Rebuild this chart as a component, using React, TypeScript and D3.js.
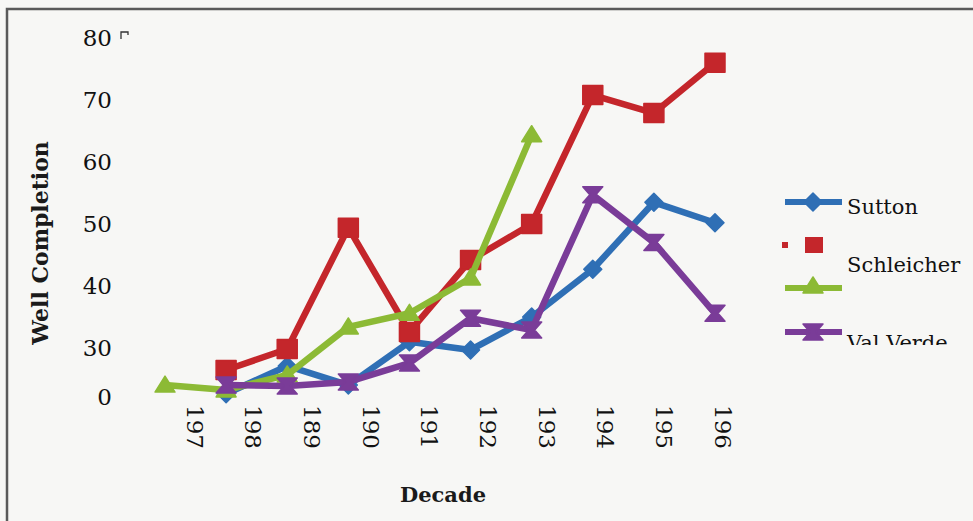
import { useRef, useEffect } from 'react';
import * as d3 from 'd3';

const decades = ['197', '198', '189', '190', '191', '192', '193', '194', '195', '196'];
const yTicks = [0, 30, 40, 50, 60, 70, 80];

const sutton = [null, 2, 19, 7.3, 31, 28.8, 35, 42.7, 53.5, 50.2];
const schleicher = [null, 16.5, 29.4, 49.4, 32.6, 44.2, 50, 70.8, 67.9, 76];
const unnamed = [7.3, 4.3, 13.5, 33.4, 35.6, 41.3, 64.4, null, null, null];
const valVerde = [null, 7.3, 6.7, 9.2, 20.8, 34.8, 32.9, 54.7, 47, 35.6];

const seriesNames = ['Sutton', 'Schleicher', '', 'Val Verde'];
const colors = ['#2f6fb5', '#c4262b', '#8cba35', '#7a3c98'];

const W = 973;
const H = 521;
const FONT = '"DejaVu Serif", serif';

const markerPath = (kind: string) => {
  switch (kind) {
    case 'diamond':
      return 'M0,-9L9,0L0,9L-9,0Z';
    case 'square':
      return 'M-10,-9.5H10V9.5H-10Z';
    case 'triangle':
      return 'M0,-9L10,7L-10,7Z';
    default:
      return 'M-10,-8H10L3,0L10,8H-10L-3,0Z';
  }
};
const markers = ['diamond', 'square', 'triangle', 'hourglass'];

export default function App() {
  const svgRef = useRef<SVGSVGElement>(null);

  useEffect(() => {
    if (!svgRef.current) return;
    const svg = d3.select(svgRef.current);
    svg.selectAll('*').remove();

    const x = d3.scalePoint<string>().domain(decades).range([165, 715]);
    const xLabel = d3.scalePoint<string>().domain(decades).range([195, 723]);
    // broken axis: 0 -> 30 squeezed
    const y = d3.scaleLinear().domain([0, 30, 80]).range([397, 348, 38]);

    svg.append('rect').attr('width', W).attr('height', H).attr('fill', '#f7f7f5');

    // frame
    svg.append('path')
      .attr('d', `M7,${H}V9H${W}`)
      .attr('fill', 'none')
      .attr('stroke', '#5a5a5a')
      .attr('stroke-width', 2.5);

    // y tick labels
    svg.append('g')
      .selectAll('text')
      .data(yTicks)
      .join('text')
      .attr('x', 112)
      .attr('y', (d) => y(d))
      .attr('dy', '0.36em')
      .attr('text-anchor', 'end')
      .attr('font-family', FONT)
      .attr('font-size', 23)
      .attr('fill', '#111')
      .text((d) => d);

    // little stray tick mark by 80
    svg.append('path')
      .attr('d', `M121,${y(80) + 1}V${y(80) - 6}H128V${y(80) - 3}`)
      .attr('fill', 'none')
      .attr('stroke', '#333')
      .attr('stroke-width', 1.3);

    // x tick labels (rotated)
    svg.append('g')
      .selectAll('text')
      .data(decades)
      .join('text')
      .attr('transform', (d) => `translate(${xLabel(d)},405) rotate(90)`)
      .attr('dy', '0.36em')
      .attr('font-family', FONT)
      .attr('font-size', 23)
      .attr('fill', '#111')
      .text((d) => d);

    // axis titles
    svg.append('text')
      .attr('transform', 'translate(40,243) rotate(-90)')
      .attr('dy', '0.35em')
      .attr('text-anchor', 'middle')
      .attr('font-family', FONT)
      .attr('font-size', 22)
      .attr('font-weight', 'bold')
      .attr('fill', '#1a1a1a')
      .text('Well Completion');

    svg.append('text')
      .attr('x', 443)
      .attr('y', 502)
      .attr('text-anchor', 'middle')
      .attr('font-family', FONT)
      .attr('font-size', 21)
      .attr('font-weight', 'bold')
      .attr('fill', '#1a1a1a')
      .text('Decade');

    // series
    const allSeries = [sutton, schleicher, unnamed, valVerde];
    const line = d3.line<number | null>()
      .defined((d) => d !== null)
      .x((_, i) => x(decades[i]) as number)
      .y((d) => y(d as number));

    allSeries.forEach((values, s) => {
      const g = svg.append('g');
      g.append('path')
        .attr('d', line(values))
        .attr('fill', 'none')
        .attr('stroke', colors[s])
        .attr('stroke-width', 6.5)
        .attr('stroke-linejoin', 'round');
      g.selectAll('path.m')
        .data(values.map((v, i) => ({ v, i })).filter((d) => d.v !== null))
        .join('path')
        .attr('class', 'm')
        .attr('transform', (d) => `translate(${x(decades[d.i])},${y(d.v as number)})`)
        .attr('d', markerPath(markers[s]))
        .attr('fill', colors[s])
        .attr('stroke', colors[s])
        .attr('stroke-width', 1.5)
        .attr('stroke-linejoin', 'round');
    });

    // legend
    const clip = svg.append('clipPath').attr('id', 'legclip');
    clip.append('rect').attr('x', 770).attr('y', 180).attr('width', 203).attr('height', 165);
    const leg = svg.append('g').attr('clip-path', 'url(#legclip)');
    const legLineY = [202, 245, 288, 332];
    const legTextY = [214, 272, 0, 350];

    legLineY.forEach((ly, s) => {
      if (s === 1) {
        leg.append('rect').attr('x', 782).attr('y', ly - 3).attr('width', 6).attr('height', 6).attr('fill', colors[s]);
        leg.append('path')
          .attr('transform', `translate(814,${ly})`)
          .attr('d', 'M-9,-8H9V8H-9Z')
          .attr('fill', colors[s]);
      } else {
        leg.append('line')
          .attr('x1', 785).attr('x2', 842)
          .attr('y1', ly).attr('y2', ly)
          .attr('stroke', colors[s])
          .attr('stroke-width', 6);
        leg.append('path')
          .attr('transform', `translate(813,${ly - (s === 2 ? 2 : 0)})`)
          .attr('d', markerPath(markers[s]))
          .attr('fill', colors[s])
          .attr('stroke', colors[s])
          .attr('stroke-width', 1.5)
          .attr('stroke-linejoin', 'round');
      }
      if (seriesNames[s]) {
        leg.append('text')
          .attr('x', 847)
          .attr('y', legTextY[s])
          .attr('font-family', FONT)
          .attr('font-size', 21)
          .attr('fill', '#111')
          .text(seriesNames[s]);
      }
    });
  }, []);

  return (
    <svg
      ref={svgRef}
      width={W}
      height={H}
      style={{ position: 'absolute', left: 0, top: 0, display: 'block' }}
    />
  );
}
